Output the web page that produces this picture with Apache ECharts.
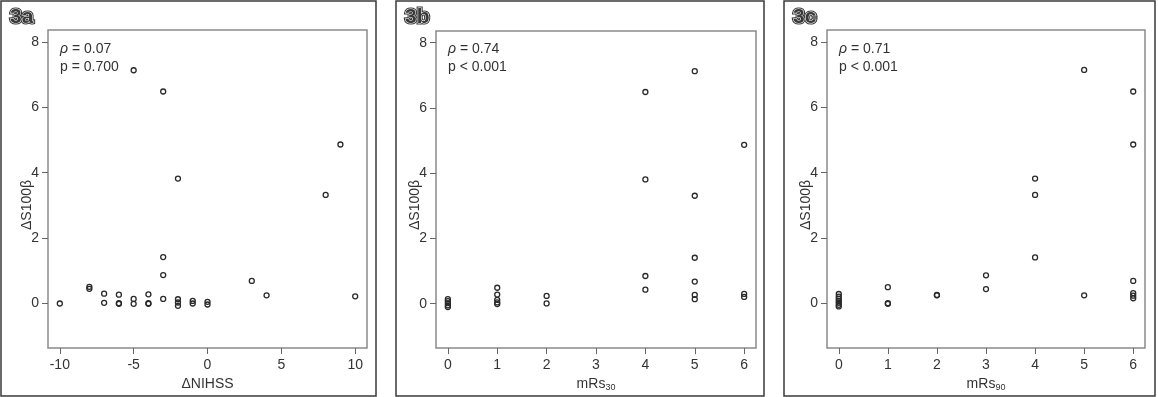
<!DOCTYPE html>
<html>
<head>
<meta charset="utf-8">
<script src="https://cdn.jsdelivr.net/npm/echarts@6/dist/echarts.min.js"></script>
<style>
html,body{margin:0;padding:0;background:#fff;}
#c{width:1158px;height:397px;}
</style>
</head>
<body>
<div id="c"></div>
<script>
// ---- data ----
const panelLabels = ['3a', '3b', '3c'];
const statsRho = ['0.07', '0.74', '0.71'];
const statsP = ['p = 0.700', 'p < 0.001', 'p < 0.001'];
const yTicks = [0, 2, 4, 6, 8];
const xTicksA = [-10, -5, 0, 5, 10];
const xTicksBC = [0, 1, 2, 3, 4, 5, 6];

const nihss = [-10, -8, -8, -7, -7, -6, -6, -6, -5, -5, -5, -4, -4, -4, -3, -3, -3, -3, -2, -2, -2, -2, -1, -1, 0, 0, 3, 4, 8, 9, 10];
const s100A = [0, 0.51, 0.45, 0.30, 0.02, 0.27, 0.01, -0.01, 7.13, 0.14, -0.01, 0.28, 0.01, -0.01, 6.48, 1.42, 0.87, 0.14, 3.82, 0.13, 0.03, -0.07, 0.08, 0.0, 0.05, -0.03, 0.69, 0.25, 3.32, 4.86, 0.22];

const mrs30 = [0, 0, 0, 0, 0, 1, 1, 1, 1, 1, 2, 2, 4, 4, 4, 4, 5, 5, 5, 5, 5, 5, 6, 6, 6];
const s100B = [0.14, 0.08, 0.02, -0.05, -0.10, 0.49, 0.28, 0.12, 0.04, -0.01, 0.24, 0.01, 6.49, 3.81, 0.85, 0.43, 7.13, 3.31, 1.41, 0.68, 0.27, 0.14, 4.87, 0.30, 0.21];

const mrs90 = [0, 0, 0, 0, 0, 0, 0, 1, 1, 1, 2, 2, 3, 3, 4, 4, 4, 5, 5, 6, 6, 6, 6, 6, 6];
const s100C = [0.29, 0.21, 0.14, 0.08, 0.02, -0.04, -0.09, 0.50, 0.01, -0.01, 0.25, 0.26, 0.86, 0.44, 3.82, 3.32, 1.41, 7.14, 0.25, 6.48, 4.86, 0.69, 0.32, 0.24, 0.16];

// ---- layout ----
const FONT = '"Liberation Sans", Arial, sans-serif';
const TXT = '#333';
const grids = [
  {left: 48, top: 30, width: 319, height: 318},
  {left: 436, top: 31, width: 320, height: 318},
  {left: 827, top: 30, width: 318, height: 318}
];
const panelBoxes = [
  {x: 1, y: 1, w: 375, h: 395},
  {x: 396, y: 1, w: 368, h: 395},
  {x: 784, y: 1, w: 371, h: 395}
];
const xNames = [
  '{a|ΔNIHSS}',
  '{a|mRs}{s|30}',
  '{a|mRs}{s|90}'
];
const xRanges = [[-10.8, 10.8], [-0.24, 6.24], [-0.24, 6.24]];
const xTickSets = [xTicksA, xTicksBC, xTicksBC];
const seriesX = [nihss, mrs30, mrs90];
const seriesY = [s100A, s100B, s100C];

const chart = echarts.init(document.getElementById('c'), null, {renderer: 'canvas'});

const gridOpt = grids.map(g => Object.assign({
  show: true, borderColor: '#8a8a8a', borderWidth: 1.5, backgroundColor: 'transparent', containLabel: false
}, g));

const xAxes = xRanges.map((r, i) => ({
  type: 'value', gridIndex: i, min: r[0], max: r[1], position: 'bottom',
  axisLine: {show: false, onZero: false},
  splitLine: {show: false},
  axisTick: {show: true, inside: false, length: 6, customValues: xTickSets[i], lineStyle: {color: '#666', width: 1}},
  axisLabel: {customValues: xTickSets[i], margin: 10, color: TXT, fontSize: 14, fontFamily: FONT},
  name: xNames[i], nameLocation: 'middle', nameGap: 27,
  nameTextStyle: {
    color: TXT, fontFamily: FONT,
    rich: {
      a: {fontSize: 14, color: TXT, fontFamily: FONT, lineHeight: 16},
      s: {fontSize: 9, color: TXT, fontFamily: FONT, lineHeight: 16, verticalAlign: 'bottom', padding: [6, 0, 0, 0]}
    }
  }
}));

const yAxes = [0, 1, 2].map(i => ({
  type: 'value', gridIndex: i, min: -1.36, max: 8.36, position: 'left',
  axisLine: {show: false, onZero: false},
  splitLine: {show: false},
  axisTick: {show: true, inside: false, length: 6, customValues: yTicks, lineStyle: {color: '#666', width: 1}},
  axisLabel: {customValues: yTicks, margin: 9, color: TXT, fontSize: 14, fontFamily: FONT}
}));

const series = [0, 1, 2].map(i => ({
  type: 'scatter', xAxisIndex: i, yAxisIndex: i,
  data: seriesX[i].map((x, k) => [x, seriesY[i][k]]),
  symbol: 'circle', symbolSize: 5,
  itemStyle: {color: 'rgba(0,0,0,0)', borderColor: '#2a2a2a', borderWidth: 1.3, opacity: 1},
  emphasis: {disabled: true},
  silent: true
}));

const graphic = [];
panelBoxes.forEach((b, i) => {
  graphic.push({
    type: 'rect', silent: true,
    shape: {x: b.x, y: b.y, width: b.w, height: b.h},
    style: {fill: 'none', stroke: '#3a3a3a', lineWidth: 1.5}
  });
  const g = grids[i];
  const lx = b.x + 9;
  // outlined panel label: dark outer ring, white inner ring, dark fill
  graphic.push({
    type: 'text', silent: true, x: lx, y: 17, z: 10,
    style: {text: panelLabels[i], font: 'bold 21px ' + FONT, fill: '#333', stroke: '#333', lineWidth: 3.2,
      textAlign: 'left', textVerticalAlign: 'middle'}
  });
  graphic.push({
    type: 'text', silent: true, x: lx, y: 17, z: 11,
    style: {text: panelLabels[i], font: 'bold 21px ' + FONT, fill: '#3a3a3a', stroke: '#fff', lineWidth: 1.1,
      textAlign: 'left', textVerticalAlign: 'middle'}
  });
  // stats text
  const sx = g.left + 12;
  graphic.push({
    type: 'text', silent: true, x: sx, y: 49.5, z: 10,
    style: {text: '{i|ρ} = ' + statsRho[i], font: '14px ' + FONT, fill: TXT,
      rich: {i: {fontStyle: 'italic', fontSize: 14, fontFamily: FONT, fill: TXT}},
      textAlign: 'left', textVerticalAlign: 'middle'}
  });
  graphic.push({
    type: 'text', silent: true, x: sx, y: 67, z: 10,
    style: {text: statsP[i], font: '14px ' + FONT, fill: TXT, textAlign: 'left', textVerticalAlign: 'middle'}
  });
  // y-axis title
  graphic.push({
    type: 'text', silent: true, x: g.left - 21, y: 205, rotation: Math.PI / 2, z: 10,
    style: {text: 'ΔS100β', font: '14px ' + FONT, fill: TXT, textAlign: 'center', textVerticalAlign: 'middle'}
  });
});

chart.setOption({
  animation: false,
  backgroundColor: '#fff',
  grid: gridOpt,
  xAxis: xAxes,
  yAxis: yAxes,
  series: series,
  graphic: graphic
});
</script>
</body>
</html>
